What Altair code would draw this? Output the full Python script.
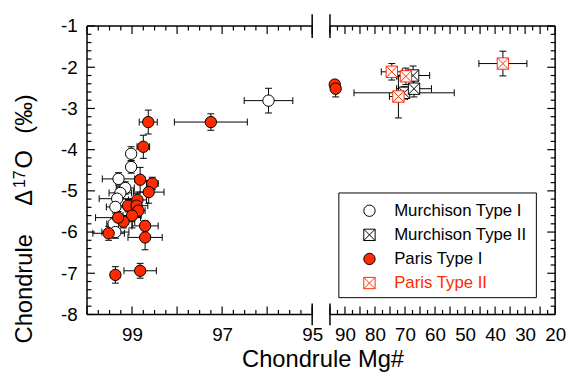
import altair as alt
import pandas as pd

RED = "#ff2a00"
W, H = 228, 292

# ---------------- data ----------------
# Murchison Type I
mi_mg = [95.97, 99.02, 99.02, 99.30, 99.15, 99.26, 99.33, 99.37, 99.41, 99.37]
mi_d17 = [-2.81, -4.10, -4.42, -4.71, -4.93, -5.05, -5.19, -5.39, -5.80, -6.00]
mi_mg_err = [0.54, 0.05, 0.05, 0.36, 0.20, 0.25, 0.40, 0.20, 0.15, 0.30]
mi_d17_err = [0.30, 0.17, 0.15, 0.15, 0.15, 0.15, 0.15, 0.15, 0.15, 0.15]

# Murchison Type II
mii_mg = [70.3, 67.3, 67.0]
mii_d17 = [-2.62, -2.20, -2.52]
mii_mg_err = [16.7, 5.5, 5.8]
mii_d17_err = [0.15, 0.23, 0.20]

# Paris Type I
pi_mg = [98.64, 97.25, 98.75, 98.82, 98.55, 98.63, 98.88, 99.09, 98.90, 98.86,
         99.00, 99.19, 99.31, 98.71, 99.52, 98.71, 99.37, 98.82, 93.4, 93.1]
pi_d17 = [-3.33, -3.33, -3.93, -4.73, -4.82, -5.03, -5.22, -5.36, -5.36, -5.48,
          -5.60, -5.75, -5.65, -5.85, -6.03, -6.13, -7.04, -6.94, -2.42, -2.52]
pi_mg_err = [0.20, 0.81, 0.14, 0.10, 0.13, 0.34, 0.20, 0.20, 0.25, 0.15,
             0.20, 0.25, 0.50, 0.29, 0.35, 0.38, 0.10, 0.36, 1.0, 1.0]
pi_d17_err = [0.29, 0.20, 0.28, 0.30, 0.15, 0.27, 0.15, 0.15, 0.20, 0.15,
              0.30, 0.15, 0.15, 0.12, 0.17, 0.30, 0.20, 0.18, 0.10, 0.20]

# Paris Type II
pii_mg = [74.4, 69.7, 72.2, 37.4]
pii_d17 = [-2.11, -2.22, -2.71, -1.91]
pii_mg_err = [3.5, 3.0, 3.0, 8.0]
pii_d17_err = [0.20, 0.20, 0.52, 0.30]

# axis ticks / labels
y_labels = [-1, -2, -3, -4, -5, -6, -7, -8]
left_x_labels = [99, 97, 95]
right_x_labels = [90, 80, 70, 60, 50, 40, 30, 20]
left_x_major = [100, 99, 98, 97, 96, 95]
left_x_minor = [100 - 0.25 * i for i in range(21) if i % 4]
right_x_major = [95 - 5 * i for i in range(16)]
right_x_minor = [92.5 - 5 * i for i in range(15)]
y_minor = [round(-1 - 0.2 * i, 2) for i in range(36) if i % 5]

series_names = ["Murchison Type I", "Murchison Type II", "Paris Type I", "Paris Type II"]

rows = []
for name, mg, d, me, de in [
    (series_names[0], mi_mg, mi_d17, mi_mg_err, mi_d17_err),
    (series_names[1], mii_mg, mii_d17, mii_mg_err, mii_d17_err),
    (series_names[2], pi_mg, pi_d17, pi_mg_err, pi_d17_err),
    (series_names[3], pii_mg, pii_d17, pii_mg_err, pii_d17_err),
]:
    for a, b, c, e in zip(mg, d, me, de):
        rows.append(dict(series=name, mg=a, d17=b, xlo=a - c, xhi=a + c,
                         ylo=b - e, yhi=b + e, panel="L" if a >= 95 else "R"))
df = pd.DataFrame(rows)
dummy = pd.DataFrame({"a": [0]})

SQX = "M-1,-1L1,-1L1,1L-1,1Z M-1,-1L1,1 M1,-1L-1,1"
VCAP = "M0,-1L0,1"
HCAP = "M-1,0L1,0"

STYLE = {
    "Murchison Type I": dict(shape="circle", fill="white", stroke="black"),
    "Murchison Type II": dict(shape=SQX, fill="white", stroke="black"),
    "Paris Type I": dict(shape="circle", fill=RED, stroke="black"),
    "Paris Type II": dict(shape=SQX, fill="white", stroke=RED),
}
MSIZE = 132
FONT = "Liberation Sans"

ys = alt.Scale(domain=[-8, -1], nice=False, zero=False)


def panel(pname, domain, x_labels, xmaj, xmin, show_y, right_side):
    xs = alt.Scale(domain=domain, reverse=True, nice=False, zero=False)
    xaxis = alt.Axis(values=x_labels, ticks=False, domain=False, grid=False, title=None,
                     labelFontSize=19, labelPadding=11, labelFlush=False,
                     labelOverlap=False, labelColor="black", labelFont=FONT)
    if show_y:
        yaxis = alt.Axis(values=y_labels, ticks=False, domain=False, grid=False, title=None,
                         labelFontSize=19, labelPadding=10, labelColor="black",
                         labelFont=FONT, labelExpr="'-' + abs(datum.value)")
    else:
        yaxis = None

    def X(f):
        return alt.X(f, type="quantitative", scale=xs, axis=xaxis)

    def Y(f):
        return alt.Y(f, type="quantitative", scale=ys, axis=yaxis)

    base = alt.Chart(df).transform_filter(alt.datum.panel == pname)
    layers = []
    # error bars
    layers.append(base.mark_rule(color="black", strokeWidth=1).encode(x=X("xlo"), x2="xhi", y=Y("d17")))
    layers.append(base.mark_rule(color="black", strokeWidth=1).encode(x=X("mg"), y=Y("ylo"), y2="yhi"))
    for fx, fy, shp in [("xlo", "d17", VCAP), ("xhi", "d17", VCAP), ("mg", "ylo", HCAP), ("mg", "yhi", HCAP)]:
        layers.append(base.mark_point(shape=shp, size=49, filled=False, stroke="black",
                                      strokeWidth=1, opacity=1).encode(x=X(fx), y=Y(fy)))
    # markers
    for name in series_names:
        st = STYLE[name]
        layers.append(base.transform_filter(alt.datum.series == name).mark_point(
            shape=st["shape"], size=MSIZE, filled=True, fill=st["fill"], stroke=st["stroke"],
            strokeWidth=1, opacity=1).encode(x=X("mg"), y=Y("d17")))

    # inward ticks
    def xt(vals, ln):
        d = pd.DataFrame({"v": vals})
        return [
            alt.Chart(d).mark_rule(color="black", strokeWidth=1.2).encode(
                x=X("v"), y=alt.value(H), y2=alt.value(H - ln)),
            alt.Chart(d).mark_rule(color="black", strokeWidth=1.2).encode(
                x=X("v"), y=alt.value(0), y2=alt.value(ln)),
        ]

    def yt(vals, ln):
        d = pd.DataFrame({"v": vals})
        if right_side:
            return [alt.Chart(d).mark_rule(color="black", strokeWidth=1.2).encode(
                y=Y("v"), x=alt.value(W), x2=alt.value(W - ln))]
        return [alt.Chart(d).mark_rule(color="black", strokeWidth=1.2).encode(
            y=Y("v"), x=alt.value(0), x2=alt.value(ln))]

    layers += xt(xmaj, 8) + xt(xmin, 4.5) + yt(y_labels, 8) + yt(y_minor, 4.5)

    # frame lines and break marks
    fr = alt.Chart(dummy)
    side_x = W if right_side else 0
    brk_x = 0 if right_side else W
    layers.append(fr.mark_rule(color="black", strokeWidth=1.5).encode(
        x=alt.value(0), x2=alt.value(W), y=alt.value(0)))
    layers.append(fr.mark_rule(color="black", strokeWidth=1.5).encode(
        x=alt.value(0), x2=alt.value(W), y=alt.value(H)))
    layers.append(fr.mark_rule(color="black", strokeWidth=1.5).encode(
        x=alt.value(side_x), y=alt.value(0), y2=alt.value(H)))
    layers.append(fr.mark_rule(color="black", strokeWidth=1.5).encode(
        x=alt.value(brk_x), y=alt.value(-12), y2=alt.value(12)))
    layers.append(fr.mark_rule(color="black", strokeWidth=1.5).encode(
        x=alt.value(brk_x), y=alt.value(H - 11), y2=alt.value(H + 11)))
    return layers


left_layers = panel("L", [95, 100], left_x_labels, left_x_major, left_x_minor, True, False)
# y-axis title, set piecewise (rotated) so the superscript is a real superscript
ytitle_parts = [
    ("Chondrule", 24, -63, 266),
    ("\u0394", 24, -63, 174),
    ("17", 16, -68, 155),
    ("O", 24, -63, 135),
    ("(\u2030)", 24, -63, 89),
]
for txt, fs, xx, yy in ytitle_parts:
    left_layers.append(alt.Chart(dummy).mark_text(
        text=txt, angle=270, fontSize=fs, align="center", baseline="middle",
        font=FONT, color="black").encode(x=alt.value(xx), y=alt.value(yy)))

right_layers = panel("R", [20, 95], right_x_labels, right_x_major, right_x_minor, False, True)
# legend
right_layers.append(alt.Chart(dummy).mark_rect(fill="white", stroke="black", strokeWidth=1).encode(
    x=alt.value(9), x2=alt.value(209), y=alt.value(169), y2=alt.value(275)))
for i, name in enumerate(series_names):
    st = STYLE[name]
    yy = 187 + 24.4 * i
    right_layers.append(alt.Chart(dummy).mark_point(
        shape=st["shape"], size=MSIZE, filled=True, fill=st["fill"], stroke=st["stroke"],
        strokeWidth=1, opacity=1).encode(x=alt.value(40), y=alt.value(yy)))
    right_layers.append(alt.Chart(dummy).mark_text(
        text=name, fontSize=17, align="left", baseline="middle", font=FONT,
        color=RED if name == "Paris Type II" else "black").encode(
        x=alt.value(65), y=alt.value(yy)))
right_layers.append(alt.Chart(dummy).mark_text(
    text="Chondrule Mg#", fontSize=24, align="center", baseline="alphabetic",
    font=FONT, color="black").encode(x=alt.value(-7), y=alt.value(345)))

left = alt.layer(*left_layers).properties(width=W, height=H)
right = alt.layer(*right_layers).properties(width=W, height=H)

chart = alt.hconcat(left, right, spacing=18, bounds="flush").properties(
    padding={"left": 4, "top": 3, "right": 0, "bottom": 0}
).configure_view(strokeWidth=0)

chart.save("out.html", embed_options={"renderer": "svg", "actions": False})
